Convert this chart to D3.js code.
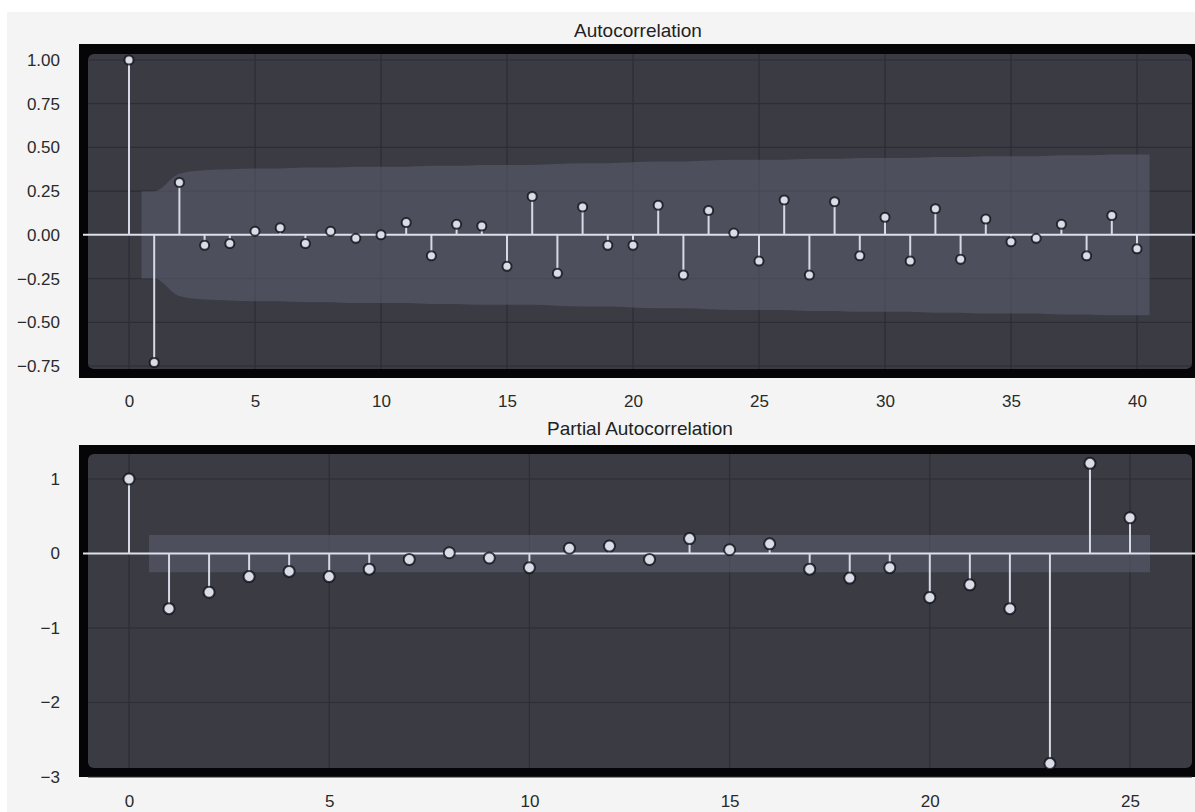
<!DOCTYPE html>
<html>
<head>
<meta charset="utf-8">
<script src="https://cdn.jsdelivr.net/npm/d3@7"></script>
<style>
  html, body { margin: 0; padding: 0; background: #ffffff; }
  svg { display: block; }
  text { font-family: "Liberation Sans", Arial, "DejaVu Sans", sans-serif; }
</style>
</head>
<body>
<svg id="chart" width="1195" height="812"></svg>
<script>
// ---------- DATA ----------
const acfLags = d3.range(0, 41);
const acfValues = [1.00, -0.73, 0.30, -0.06, -0.05, 0.02, 0.04, -0.05, 0.02, -0.02,
  0.00, 0.07, -0.12, 0.06, 0.05, -0.18, 0.22, -0.22, 0.16, -0.06,
  -0.06, 0.17, -0.23, 0.14, 0.01, -0.15, 0.20, -0.23, 0.19, -0.12,
  0.10, -0.15, 0.15, -0.14, 0.09, -0.04, -0.02, 0.06, -0.12, 0.11, -0.08];
// confidence band half-width for lags 1..40
const acfConf = [0.25, 0.35, 0.37, 0.375, 0.38, 0.38, 0.385, 0.385, 0.39, 0.39,
  0.39, 0.395, 0.395, 0.40, 0.40, 0.40, 0.405, 0.41, 0.41, 0.415,
  0.42, 0.42, 0.425, 0.43, 0.43, 0.43, 0.435, 0.435, 0.44, 0.44,
  0.44, 0.445, 0.445, 0.45, 0.45, 0.45, 0.455, 0.455, 0.46, 0.46];
const acfXTicks = [0, 5, 10, 15, 20, 25, 30, 35, 40];
const acfYTicks = [1.00, 0.75, 0.50, 0.25, 0.00, -0.25, -0.50, -0.75];

const pacfLags = d3.range(0, 26);
const pacfValues = [1.00, -0.74, -0.52, -0.31, -0.24, -0.31, -0.21, -0.08, 0.01, -0.06,
  -0.19, 0.07, 0.10, -0.08, 0.20, 0.05, 0.13, -0.21, -0.33, -0.19,
  -0.59, -0.42, -0.74, -2.82, 1.21, 0.48];
const pacfConf = 0.25;
const pacfXTicks = [0, 5, 10, 15, 20, 25];
const pacfYTicks = [1, 0, -1, -2, -3];

const titles = ["Autocorrelation", "Partial Autocorrelation"];

// ---------- DRAW ----------
const svg = d3.select("#chart");
svg.append("rect").attr("x", 7).attr("y", 12).attr("width", 1188).attr("height", 800).attr("fill", "#f4f4f4");

function panel(cfg) {
  const g = svg.append("g");
  const { x, y } = cfg;
  g.append("rect").attr("x", cfg.frame[0]).attr("y", cfg.frame[1])
    .attr("width", cfg.frame[2] - cfg.frame[0]).attr("height", cfg.frame[3] - cfg.frame[1])
    .attr("fill", "#050507");
  g.append("rect").attr("x", cfg.inner[0]).attr("y", cfg.inner[1])
    .attr("width", cfg.inner[2] - cfg.inner[0]).attr("height", cfg.inner[3] - cfg.inner[1])
    .attr("rx", 6).attr("fill", "#3b3b44");
  g.selectAll(".vg").data(cfg.xTicks).join("line")
    .attr("x1", d => x(d)).attr("x2", d => x(d))
    .attr("y1", cfg.inner[1]).attr("y2", cfg.inner[3])
    .attr("stroke", "#2d2d34").attr("stroke-width", 1.2);
  g.selectAll(".hg").data(cfg.yTicks).join("line")
    .attr("x1", cfg.inner[0]).attr("x2", cfg.inner[2])
    .attr("y1", d => y(d)).attr("y2", d => y(d))
    .attr("stroke", "#2d2d34").attr("stroke-width", 1.2);
  g.append("path").datum(cfg.band)
    .attr("d", d3.area().x(d => x(d[0])).y0(d => y(-d[1])).y1(d => y(d[1])).curve(d3.curveMonotoneX))
    .attr("fill", "#5c6073").attr("fill-opacity", 0.55);
  g.append("line").attr("x1", cfg.frame[0] + 4).attr("x2", cfg.frame[2])
    .attr("y1", y(0)).attr("y2", y(0))
    .attr("stroke", "#dde1ec").attr("stroke-width", 2);
  g.selectAll(".stem").data(cfg.values).join("line")
    .attr("x1", (d, i) => x(cfg.lags[i])).attr("x2", (d, i) => x(cfg.lags[i]))
    .attr("y1", y(0)).attr("y2", d => y(d))
    .attr("stroke", "#d6dae6").attr("stroke-width", 2);
  g.selectAll(".mk").data(cfg.values).join("circle")
    .attr("cx", (d, i) => x(cfg.lags[i])).attr("cy", d => y(d))
    .attr("r", cfg.r)
    .attr("fill", "#d9dde9")
    .attr("stroke", "rgba(10,10,14,0.75)").attr("stroke-width", 2);
  const ax = g.append("g").attr("transform", `translate(0,${cfg.xLabelY})`)
    .call(d3.axisBottom(x).tickValues(cfg.xTicks).tickSize(0).tickFormat(d3.format("d")));
  ax.select(".domain").remove();
  ax.selectAll("text").attr("fill", "#2a2a2a").attr("font-size", 17).attr("dy", 0);
  const ay = g.append("g").attr("transform", `translate(${cfg.yLabelX},0)`)
    .call(d3.axisLeft(y).tickValues(cfg.yTicks).tickSize(0).tickFormat(cfg.yFormat));
  ay.select(".domain").remove();
  ay.selectAll("text").attr("fill", "#2a2a2a").attr("font-size", 17).attr("dx", 0);
  svg.append("text").attr("x", cfg.titleX).attr("y", cfg.titleY)
    .attr("text-anchor", "middle").attr("font-size", 19).attr("fill", "#222")
    .text(cfg.title);
}

// ACF
const xA = d3.scaleLinear().domain([0, 40]).range([129, 1137]);
const yA = d3.scaleLinear().domain([-0.75, 1.0]).range([366, 60]);
const bandA = [[0.5, acfConf[0]]].concat(acfConf.map((c, i) => [i + 1, c]));
bandA.push([40.5, acfConf[acfConf.length - 1]]);
panel({
  x: xA, y: yA, lags: acfLags, values: acfValues, band: bandA,
  xTicks: acfXTicks, yTicks: acfYTicks,
  frame: [79, 44, 1195, 378], inner: [88, 54, 1192, 369],
  r: 4.5, xLabelY: 404, yLabelX: 63, yFormat: d3.format(".2f"),
  title: titles[0], titleX: 638, titleY: 37
});

// PACF
const xP = d3.scaleLinear().domain([0, 25]).range([129, 1130]);
const yP = d3.scaleLinear().domain([-3, 1]).range([777, 479]);
const bandP = [[0.5, pacfConf], [25.5, pacfConf]];
panel({
  x: xP, y: yP, lags: pacfLags, values: pacfValues, band: bandP,
  xTicks: pacfXTicks, yTicks: pacfYTicks,
  frame: [79, 445, 1195, 777], inner: [88, 454, 1192, 768],
  r: 5.5, xLabelY: 804, yLabelX: 63, yFormat: d3.format("d"),
  title: titles[1], titleX: 640, titleY: 435
});
</script>
</body>
</html>
